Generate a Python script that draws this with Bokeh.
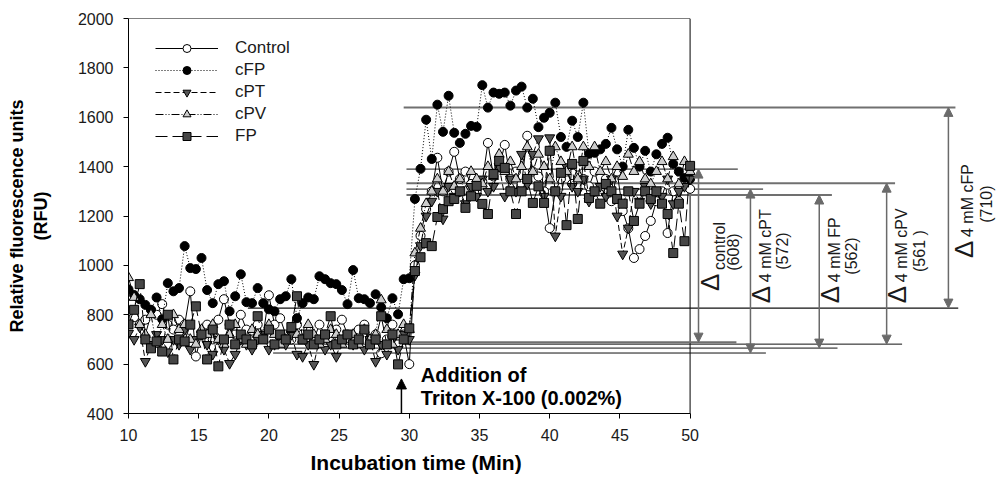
import numpy as np
from bokeh.plotting import figure
from bokeh.models import Range1d, FixedTicker, Legend, LegendItem, Arrow, NormalHead, Title
from bokeh.core.properties import value
from bokeh.embed import file_html
from bokeh.resources import INLINE

# ---------------- data ----------------
time_min = np.round(10 + 0.4 * np.arange(101), 1)

control = [
    814, 790, 760, 780, 820, 800, 843, 760, 740, 780,
    760, 895, 631, 720, 760, 700, 780, 863, 760, 720,
    800, 740, 700, 760, 720, 879, 760, 786, 720, 700,
    760, 720, 740, 700, 760, 720, 690, 740, 780, 720,
    700, 740, 760, 700, 720, 644, 700, 760, 680, 720,
    600,
    1000, 1120, 1228, 1300, 1436, 1300, 1380, 1460, 1350, 1380,
    1330, 1300, 1340, 1496, 1360, 1400, 1488, 1350, 1380, 1330,
    1525, 1380, 1360, 1300, 1151, 1300, 1350, 1380, 1330, 1400,
    1350, 1320, 1380, 1300, 1350, 1260, 1380, 1220, 1150, 1030,
    1066, 1119, 1180, 1260, 1300, 1131, 1300, 1260, 1330, 1310,
]
cFP = [
    903, 880, 863, 840, 820, 870, 782, 928, 895, 908,
    1078, 989, 985, 1030, 900, 847, 924, 936, 814, 875,
    964, 851, 847, 908, 847, 822, 814, 863, 875, 944,
    786, 847, 870, 863, 956, 944, 928, 924, 900, 843,
    981, 867, 863, 847, 883, 830, 786, 867, 802, 944,
    948,
    1269, 1391, 1590, 1431, 1651, 1541, 1687, 1537, 1496, 1533,
    1565, 1561, 1730, 1639, 1700, 1695, 1700, 1647, 1708, 1724,
    1639, 1675, 1560, 1598, 1618, 1659, 1520, 1480, 1586, 1520,
    1659, 1452, 1456, 1470, 1492, 1557, 1470, 1400, 1549, 1476,
    1400, 1464, 1380, 1450, 1492, 1517, 1411, 1380, 1354, 1350,
]
cPT = [
    725, 700, 750, 611, 680, 720, 700, 650, 700, 680,
    740, 660, 700, 720, 680, 640, 700, 660, 603, 640,
    700, 680, 660, 700, 720, 660, 680, 700, 680, 720,
    640, 631, 680, 599, 700, 660, 680, 631, 700, 720,
    680, 700, 660, 700, 611, 680, 640, 700, 660, 720,
    700,
    960, 1080, 1200, 1260, 1300, 1188, 1320, 1280, 1300, 1250,
    1320, 1280, 1350, 1300, 1320, 1400, 1280, 1350, 1300, 1450,
    1330, 1450, 1513, 1280, 1517, 1119, 1280, 1400, 1320, 1300,
    1350, 1260, 1300, 1320, 1280, 1350, 1200, 1046, 1151, 1300,
    1260, 1320, 1250, 1300, 1280, 1350, 1250, 1300, 1320, 1350,
]
cPV = [
    950, 870, 760, 720, 800, 680, 760, 700, 800, 740,
    760, 700, 680, 740, 720, 760, 700, 680, 720, 760,
    700, 680, 740, 720, 700, 760, 720, 680, 700, 740,
    720, 700, 760, 720, 680, 700, 740, 720, 680, 700,
    720, 680, 740, 700, 720, 860, 740, 680, 720, 760,
    740,
    1050, 1150, 1250, 1300, 1350, 1300, 1380, 1320, 1350, 1300,
    1380, 1350, 1330, 1400, 1360, 1450, 1380, 1420, 1350, 1400,
    1480, 1380, 1450, 1400, 1350, 1480, 1420, 1380, 1480, 1350,
    1480, 1400, 1480, 1380, 1420, 1350, 1400, 1360, 1450, 1380,
    1420, 1350, 1330, 1380, 1420, 1350, 1440, 1330, 1420, 1380,
]
FP = [
    761, 820, 924, 700, 664, 692, 651, 800, 619, 700,
    692, 760, 834, 720, 619, 740, 591, 700, 760, 680,
    720, 700, 680, 794, 700, 740, 680, 720, 700, 750,
    875, 700, 720, 680, 700, 720, 794, 680, 700, 720,
    680, 700, 740, 680, 700, 794, 680, 720, 599, 700,
    745,
    977, 1033, 1090, 1078, 1196, 1228, 1260, 1269, 1300, 1233,
    1280, 1322, 1249, 1208, 1370, 1423, 1395, 1300, 1208, 1300,
    1350, 1253, 1320, 1253, 1464, 1300, 1375, 1163, 1411, 1188,
    1423, 1273, 1300, 1250, 1330, 1300, 1269, 1250, 1300, 1180,
    1250, 1300, 1269, 1300, 1250, 1208, 1050, 1250, 1098, 1403,
]

series_names = ["Control", "cFP", "cPT", "cPV", "FP"]
series_values = [control, cFP, cPT, cPV, FP]

x_ticks = [10, 15, 20, 25, 30, 35, 40, 45, 50]
y_ticks = [400, 600, 800, 1000, 1200, 1400, 1600, 1800, 2000]

# reference (plateau / baseline) lines
ref_y = [1640, 1390, 1333, 1309, 1285, 827, 689, 681, 665, 645]
ref_x0 = [29.6, 29.8, 29.8, 29.8, 29.8, 18.5, 28.5, 20.3, 20.0, 20.3]
ref_x1 = [68.9, 53.4, 64.6, 55.2, 60.1, 69.1, 53.3, 65.1, 60.5, 55.4]
ref_color = ["#707070", "#111111", "#707070", "#111111", "#707070",
             "#111111", "#707070", "#111111", "#111111", "#111111"]
ref_width = [2, 1, 2, 1, 2, 1.3, 2, 1, 1, 1]

# difference arrows
arrow_x = [50.6, 54.3, 59.2, 64.0, 68.4]
arrow_top = [1390, 1309, 1285, 1333, 1640]
arrow_bottom = [689, 645, 665, 681, 827]

delta_x = [51.40, 55.04, 59.95, 64.72, 69.49]
delta_y = [896, 847, 847, 847, 1030]
sub_x = [52.12, 55.39, 60.30, 65.07, 69.78]
sub_y = [981, 932, 932, 932, 1115]
sub_text = ["control", "4 mM cPT", "4 mM FP", "4 mM cPV", "4 mM cFP"]
paren_x = [53.11, 56.60, 61.51, 66.36, 71.13]
paren_y = [1054, 1058, 1038, 1058, 1248]
paren_text = ["(608)", "(572)", "(562)", "(561 )", "(710)"]

# ---------------- figure ----------------
FONT = "Liberation Sans"
p = figure(width=1000, height=483, output_backend="svg", toolbar_location=None,
           x_range=Range1d(10, 72.11), y_range=Range1d(400, 2000),
           min_border_left=128, min_border_right=0, min_border_top=18,
           min_border_bottom=70)
p.outline_line_color = None
p.xgrid.visible = False
p.ygrid.visible = False
p.background_fill_color = "white"
p.border_fill_color = "white"

for ax in (p.xaxis[0], p.yaxis[0]):
    ax.axis_line_color = "black"
    ax.major_tick_line_color = "black"
    ax.minor_tick_line_color = None
    ax.major_tick_in = 0
    ax.major_tick_out = 5
    ax.major_label_text_font = FONT
    ax.major_label_text_font_size = "16px"
    ax.major_label_text_color = "#1a1a1a"
    ax.major_label_standoff = 10
    ax.axis_label_text_font = FONT
    ax.axis_label_text_font_style = "bold"
    ax.axis_label_text_color = "black"

p.xaxis.bounds = (10, 50)
p.xaxis.ticker = FixedTicker(ticks=x_ticks)

p.yaxis.bounds = (400, 2000)
p.yaxis.ticker = FixedTicker(ticks=y_ticks)
p.yaxis.axis_label = "Relative fluorescence units\n(RFU)"
p.yaxis.axis_label_text_font_size = "18px"
p.yaxis.axis_label_standoff = 24

# x-axis title placed under the 10-50 axis rule (frame is wider than the axis)
p.add_layout(Title(text="Incubation time (Min)", align="left", offset=182,
                   standoff=11, text_font=FONT, text_font_size="21px",
                   text_font_style="bold", text_color="black"), "below")

# box top and right
p.line([10, 50], [2000, 2000], line_color="black", line_width=1)
p.line([50, 50], [400, 2000], line_color="black", line_width=1)

# reference lines
p.segment(x0=ref_x0, y0=ref_y, x1=ref_x1, y1=ref_y, line_color=ref_color, line_width=ref_width)

# series
styles = {
    "Control": dict(marker="circle", fill="white", dash="solid", size=9),
    "cFP": dict(marker="circle", fill="black", dash="1 2", size=9),
    "cPT": dict(marker="inverted_triangle", fill="#555555", dash="6 3", size=10),
    "cPV": dict(marker="triangle", fill="#cccccc", dash="8 2 1 2 1 2", size=10),
    "FP": dict(marker="square", fill="#464646", dash="12 5", size=9),
}
items = []
for name, vals in zip(series_names, series_values):
    st = styles[name]
    lr = p.line(time_min, vals, line_color="black", line_width=1, line_dash=st["dash"])
    sr = p.scatter(time_min, vals, marker=st["marker"], size=st["size"],
                   fill_color=st["fill"], line_color="black", line_width=1)
    items.append((name, lr, sr))

# difference arrows
for xa, yt, yb in zip(arrow_x, arrow_top, arrow_bottom):
    p.add_layout(Arrow(x_start=xa, y_start=yb, x_end=xa, y_end=yt,
                       line_color="#6a6a6a", line_width=1.5,
                       start=NormalHead(size=9, fill_color="#6a6a6a", line_color="#6a6a6a"),
                       end=NormalHead(size=9, fill_color="#6a6a6a", line_color="#6a6a6a")))

# rotated delta labels
p.text(x=delta_x, y=delta_y, text=["Δ"] * len(delta_x), angle=np.pi / 2,
       text_font=value(FONT), text_font_size="26px", text_align="left",
       text_baseline="middle", text_color="#1a1a1a")
p.text(x=sub_x, y=sub_y, text=sub_text, angle=np.pi / 2,
       text_font=value(FONT), text_font_size="16px", text_align="left",
       text_baseline="middle", text_color="#1a1a1a")
p.text(x=paren_x, y=paren_y, text=paren_text, angle=np.pi / 2,
       text_font=value(FONT), text_font_size="16px", text_align="center",
       text_baseline="middle", text_color="#1a1a1a")

# Triton annotation
p.add_layout(Arrow(x_start=29.44, y_start=400, x_end=29.44, y_end=540,
                   line_color="black", line_width=1.5,
                   end=NormalHead(size=10, fill_color="black", line_color="black")))
p.text(x=[30.82, 30.82], y=[556, 463], text=["Addition of", "Triton X-100 (0.002%)"],
       text_font=value(FONT), text_font_size="20px", text_font_style="bold",
       text_align="left", text_baseline="middle", text_color="black")

legend = Legend(items=[LegendItem(label=n, renderers=[lr, sr]) for n, lr, sr in items],
                location=(27, 267), glyph_width=63, glyph_height=20, label_height=20,
                spacing=2, padding=0, margin=0, label_standoff=17,
                label_text_font=FONT, label_text_font_size="17px",
                label_text_color="#1a1a1a", border_line_color=None,
                background_fill_alpha=0)
p.add_layout(legend, "center")

open("out.html", "w").write(file_html(p, INLINE))
